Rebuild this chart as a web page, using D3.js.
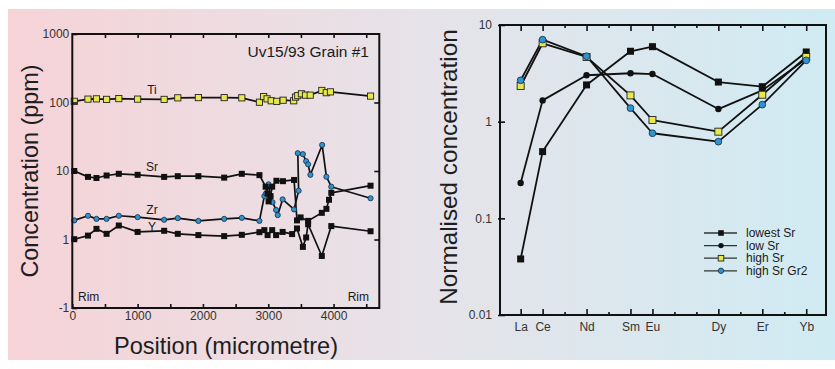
<!DOCTYPE html>
<html><head><meta charset="utf-8">
<script src="https://cdn.jsdelivr.net/npm/d3@7"></script>
<style>
body{margin:0;background:#fff}
svg{display:block;font-family:"Liberation Sans",Arial,Helvetica,sans-serif}
</style>
</head><body>
<svg id="c" width="835" height="369"></svg>
<script>
// ---- Left panel: trace elements along a traverse of the grain ----
const tiData = [[30,104],[240,112],[370,113],[525,111],[712,114],[1000,112],[1406,111],[1615,117],[1930,118],[2325,118],[2595,117],[2865,101],[2930,122],[2982,113],[3045,106],[3130,104],[3228,108],[3390,106],[3418,120],[3452,126],[3508,134],[3570,128],[3642,128],[3820,150],[3888,139],[3952,143],[4566,124]];
const srData = [[30,10.0],[240,8.2],[370,7.9],[525,8.6],[712,9.1],[1000,8.8],[1406,8.2],[1615,8.4],[1930,8.4],[2325,8.0],[2595,9.1],[2865,8.7],[2960,5.9],[2990,4.7],[3005,3.6],[3035,4.3],[3060,5.9],[3125,7.2],[3225,7.1],[3395,7.4],[3440,1.9],[3495,2.1],[3610,1.87],[3820,2.45],[3890,2.8],[3930,3.8],[3965,4.8],[4566,6.1]];
const zrData = [[30,1.90],[240,2.22],[370,2.0],[525,2.0],[712,2.22],[1000,2.12],[1406,1.94],[1615,2.05],[1930,1.87],[2325,2.0],[2595,2.07],[2865,1.87],[2940,4.3],[2965,4.7],[3005,6.4],[3030,4.2],[3065,3.5],[3120,2.7],[3145,2.27],[3220,3.85],[3395,2.75],[3465,5.15],[3452,18.2],[3530,17.6],[3580,13.9],[3610,12.5],[3645,8.8],[3825,24.0],[3890,8.25],[3965,5.9],[4566,4.0]];
const yData = [[30,1.01],[240,1.14],[370,1.43],[525,1.21],[712,1.60],[1000,1.29],[1406,1.34],[1615,1.21],[1930,1.16],[2325,1.12],[2595,1.17],[2865,1.28],[2940,1.37],[2990,1.16],[3060,1.37],[3120,1.16],[3220,1.29],[3365,1.20],[3440,1.45],[3530,0.78],[3580,1.07],[3610,1.67],[3820,0.575],[3965,1.57],[4566,1.32]];
const seriesLabels = [["Ti",1220,152],["Sr",1220,11.4],["Zr",1220,2.7],["Y",1220,1.54]];
const leftYTicks = [0.1,1,10,100,1000];
const leftYTickLabels = ["-1","1","10","100","1000"];
const leftXTicks = [0,1000,2000,3000,4000];

// ---- Right panel: normalised REE patterns ----
const reeAll = ["La","Ce","Pr","Nd","Pm","Sm","Eu","Gd","Tb","Dy","Ho","Er","Tm","Yb"];
const reeLabels = ["La","Ce","Nd","Sm","Eu","Dy","Er","Yb"];
const lowestSr = [0.038,0.49,2.40,5.35,5.97,2.57,2.30,5.26];
const lowSr = [0.232,1.66,3.02,3.17,3.11,1.35,2.11,4.45];
const highSr = [2.34,6.47,4.67,1.87,1.04,0.788,1.90,4.67];
const highSrGr2 = [2.68,7.05,4.75,1.38,0.759,0.621,1.50,4.31];
const legendNames = ["lowest Sr","low Sr","high Sr","high Sr Gr2"];
const rightYTicks = [0.01,0.1,1,10];
const rightYTickLabels = ["0.01","0.1","1","10"];

const YELLOW = "#e8e84c", BLUE = "#2f93d1", INK = "#111";

const svg = d3.select("#c");
const defs = svg.append("defs");
const grad = defs.append("linearGradient").attr("id","bg").attr("x1","0").attr("x2","1").attr("y1","0").attr("y2","0");
grad.append("stop").attr("offset","0").attr("stop-color","#f6d3d7");
grad.append("stop").attr("offset","0.5").attr("stop-color","#e6e3e9");
grad.append("stop").attr("offset","1").attr("stop-color","#d0ebf3");
svg.append("rect").attr("x",8).attr("y",9).attr("width",827).attr("height",351).attr("fill","url(#bg)");

function drawMarker(g, shape, x, y, fill, size) {
  if (shape === "square") {
    g.append("rect").attr("x",x-size/2).attr("y",y-size/2).attr("width",size).attr("height",size)
      .attr("fill",fill).attr("stroke","#222").attr("stroke-width",fill===INK?0:0.9);
  } else {
    g.append("circle").attr("cx",x).attr("cy",y).attr("r",size/2)
      .attr("fill",fill).attr("stroke","#1c2c3a").attr("stroke-width",fill===INK?0:0.8);
  }
}

// ===== Left chart =====
const L = {x0:72.3, x1:379.3, y0:34, y1:308};
const xL = d3.scaleLinear().domain([0,4700]).range([L.x0,L.x1]);
const yL = d3.scaleLog().domain([0.1,1000]).range([L.y1,L.y0]);
const gl = svg.append("g");

const line = d3.line().x(d=>xL(d[0])).y(d=>yL(d[1]));
const leftSeries = [
  {data:yData, shape:"square", fill:INK, size:6},
  {data:zrData, shape:"circle", fill:BLUE, size:5.2},
  {data:srData, shape:"square", fill:INK, size:6},
  {data:tiData, shape:"square", fill:YELLOW, size:6.2}
];
leftSeries.forEach(s=>{
  gl.append("path").datum(s.data).attr("d",line).attr("fill","none").attr("stroke",INK).attr("stroke-width",1.7).attr("stroke-linejoin","round");
});
leftSeries.forEach(s=>{
  s.data.forEach(d=>drawMarker(gl, s.shape, xL(d[0]), yL(d[1]), s.fill, s.size));
});

// axes (inward ticks)
const axL = gl.append("g").attr("transform",`translate(${L.x0},0)`)
  .call(d3.axisLeft(yL).tickValues(leftYTicks).tickFormat((d,i)=>leftYTickLabels[i]).tickSize(-5).tickPadding(3));
const axR = gl.append("g").attr("transform",`translate(${L.x1},0)`)
  .call(d3.axisRight(yL).tickValues([1,10,100]).tickFormat("").tickSize(-5));
const axB = gl.append("g").attr("transform",`translate(0,${L.y1})`)
  .call(d3.axisBottom(xL).tickValues(d3.range(0,4700,500)).tickFormat(d=>leftXTicks.includes(d)?d:"").tickSize(-4).tickPadding(6));
const axT = gl.append("g").attr("transform",`translate(0,${L.y0})`)
  .call(d3.axisTop(xL).tickValues(d3.range(500,4700,500)).tickFormat("").tickSize(-4));
[axL,axR,axB,axT].forEach(a=>{
  a.select(".domain").remove();
  a.selectAll("line").attr("stroke",INK).attr("stroke-width",1.6);
  a.selectAll("text").attr("fill","#333").style("font-size","12px");
});
axB.selectAll("text").attr("dy","0.5em");
gl.append("rect").attr("x",L.x0).attr("y",L.y0).attr("width",L.x1-L.x0).attr("height",L.y1-L.y0)
  .attr("fill","none").attr("stroke",INK).attr("stroke-width",2);

gl.append("text").attr("x",369).attr("y",57).attr("text-anchor","end").style("font-size","15.5px").attr("fill","#1a1a1a").text("Uv15/93 Grain #1");
gl.append("text").attr("x",78).attr("y",301).style("font-size","12px").attr("fill","#1a1a1a").text("Rim");
gl.append("text").attr("x",369).attr("y",301).attr("text-anchor","end").style("font-size","12px").attr("fill","#1a1a1a").text("Rim");
seriesLabels.forEach(s=>{
  gl.append("text").attr("x",xL(s[1])).attr("y",yL(s[2])+4).attr("text-anchor","middle").style("font-size","12px").attr("fill","#1a1a1a").text(s[0]);
});
gl.append("text").attr("transform","translate(38,171) rotate(-90)").attr("text-anchor","middle")
  .style("font-size","23.4px").attr("fill","#1e1e1e").text("Concentration (ppm)");
gl.append("text").attr("x",226).attr("y",354).attr("text-anchor","middle")
  .style("font-size","23.6px").attr("fill","#1e1e1e").text("Position (micrometre)");

// ===== Right chart =====
const R = {x0:500, x1:826, y0:25, y1:315};
const xR = d3.scaleLinear().domain([-0.94,13.9]).range([R.x0,R.x1]);
const yR = d3.scaleLog().domain([0.01,10]).range([R.y1,R.y0]);
const gr = svg.append("g");
const reeX = reeLabels.map(e=>reeAll.indexOf(e));
const rline = d3.line().x(d=>xR(d[0])).y(d=>yR(d[1]));
const rightSeries = [
  {name:legendNames[0], vals:lowestSr, shape:"square", fill:INK, size:7},
  {name:legendNames[1], vals:lowSr, shape:"circle", fill:INK, size:6.4},
  {name:legendNames[2], vals:highSr, shape:"square", fill:YELLOW, size:7},
  {name:legendNames[3], vals:highSrGr2, shape:"circle", fill:BLUE, size:6.8}
];
rightSeries.forEach(s=>{
  const pts = s.vals.map((v,i)=>[reeX[i],v]);
  gr.append("path").datum(pts).attr("d",rline).attr("fill","none").attr("stroke",INK).attr("stroke-width",1.8).attr("stroke-linejoin","round");
});
rightSeries.forEach(s=>{
  s.vals.forEach((v,i)=>drawMarker(gr, s.shape, xR(reeX[i]), yR(v), s.fill, s.size));
});

const rL = gr.append("g").attr("transform",`translate(${R.x0},0)`)
  .call(d3.axisLeft(yR).tickValues(rightYTicks).tickFormat((d,i)=>rightYTickLabels[i]).tickSize(-5).tickPadding(8));
const rB = gr.append("g").attr("transform",`translate(0,${R.y1})`)
  .call(d3.axisBottom(xR).tickValues(d3.range(reeAll.length)).tickFormat(i=>reeLabels.includes(reeAll[i])?reeAll[i]:"").tickSize(-6).tickPadding(9));
const rT = gr.append("g").attr("transform",`translate(0,${R.y0})`)
  .call(d3.axisTop(xR).tickValues(d3.range(reeAll.length)).tickFormat("").tickSize(-6));
[rL,rB,rT].forEach(a=>{
  a.select(".domain").remove();
  a.selectAll("line").attr("stroke",INK).attr("stroke-width",1.6);
  a.selectAll("text").attr("fill","#333").style("font-size","12px");
});
rB.selectAll("text").attr("dy","0.6em");
// shorter ticks at unlabelled elements
[rB,rT].forEach(a=>a.selectAll(".tick").filter(i=>!reeLabels.includes(reeAll[i])).select("line").attr("y2",a===rB?-3:3));
rL.selectAll("line").attr("x1",-2);
gr.append("rect").attr("x",R.x0).attr("y",R.y0).attr("width",R.x1-R.x0).attr("height",R.y1-R.y0)
  .attr("fill","none").attr("stroke",INK).attr("stroke-width",2);

gr.append("text").attr("transform","translate(457,167) rotate(-90)").attr("text-anchor","middle")
  .style("font-size","24.3px").attr("fill","#1e1e1e").text("Normalised concentration");

// legend
const legY = [233,245.6,258.2,270.8];
rightSeries.forEach((s,i)=>{
  const g = gr.append("g");
  g.append("line").attr("x1",704).attr("x2",737).attr("y1",legY[i]).attr("y2",legY[i]).attr("stroke","#333").attr("stroke-width",1.3);
  drawMarker(g, s.shape, 721, legY[i], s.fill, s.shape==="square"?5.6:5.4);
  g.append("text").attr("x",746).attr("y",legY[i]+4.2).style("font-size","12px").attr("fill","#1a1a1a").text(s.name);
});
</script>
</body></html>
